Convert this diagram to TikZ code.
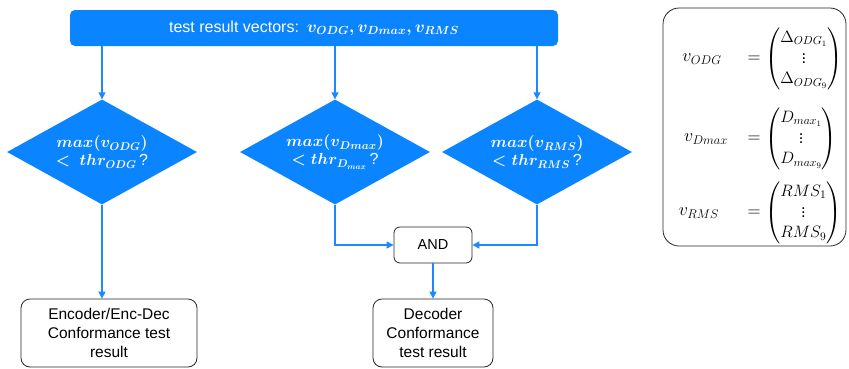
\documentclass[tikz,border=0pt]{standalone}
\usepackage{fix-cm}
\usepackage{amsmath}
\usepackage[no-math]{fontspec}
\setmainfont{Liberation Sans}
\usetikzlibrary{shapes.geometric,arrows.meta}
\definecolor{flowblue}{RGB}{10,132,255}
\definecolor{linkblue}{RGB}{30,136,255}
\tikzset{
  topbar/.style={fill=flowblue, rounded corners=5pt, minimum width=488pt,
    minimum height=36pt, text=white, inner sep=0pt},
  test/.style={diamond, fill=flowblue, minimum width=190pt, minimum height=105pt,
    shape aspect=1.8, inner sep=0pt, text=white, align=center,
    font=\fontsize{16}{19}\selectfont\boldmath},
  outbox/.style={draw=black!85, rounded corners=9pt, line width=0.8pt,
    align=center, inner sep=0pt, font=\fontsize{15.5}{19}\selectfont},
  link/.style={draw=linkblue, line width=1.1pt, -{Triangle[length=7pt,width=7pt]}},
  eq/.style={inner sep=0pt, font=\fontsize{18}{21}\selectfont},
  vec/.style={inner sep=0pt, anchor=west, font=\fontsize{16.5}{20}\selectfont},
}
\begin{document}
\begin{tikzpicture}[x=1pt,y=-1pt]
\useasboundingbox (0,0) rectangle (849,368);

% header with the three result vectors
\node[topbar] (bar) at (314,28)
  {{\fontsize{16}{19}\selectfont test result vectors:}\hspace{8pt}%
   {\fontsize{16.8}{20}\selectfont\boldmath $v_{ODG}, v_{Dmax}, v_{RMS}$}};

% threshold tests
\node[test] (dodg) at (102,152)
  {$max(v_{ODG})$\\[-1pt]$<\ thr_{ODG}$\,?};
\node[test] (ddmax) at (335,152)
  {$max(v_{Dmax})$\\[-1pt]$<thr_{D_{max}}$\,?};
\node[test] (drms) at (537,152)
  {$max(v_{RMS})$\\[-1pt]$<thr_{RMS}$\,?};

% combination and results
\node[outbox, minimum width=78pt, minimum height=36pt, rounded corners=6pt,
      font=\fontsize{14.5}{16}\selectfont] (and) at (433,245) {AND};
\node[outbox, minimum width=176pt, minimum height=68pt] (enc) at (109,333)
  {Encoder/Enc-Dec\\Conformance test\\result};
\node[outbox, minimum width=120pt, minimum height=68pt] (dec) at (433,333)
  {Decoder\\Conformance\\test result};

% connectors
\draw[link] (dodg.north |- bar.south) -- (dodg.north);
\draw[link] (ddmax.north |- bar.south) -- (ddmax.north);
\draw[link] (drms.north |- bar.south) -- (drms.north);
\draw[link] (dodg.south) -- (dodg.south |- enc.north);
\draw[link] (ddmax.south) |- (and.west);
\draw[link] (drms.south) |- (and.east);
\draw[link] (and.south) -- (dec.north);

% definition of the vectors
\node[draw=black!85, line width=0.8pt, rounded corners=16pt,
      minimum width=183pt, minimum height=238pt] (defs) at (754.5,127) {};

\node[eq] (lodg) at (702,59) {$v_{ODG}$};
\node[eq] (eodg) at (754,59) {$=$};
\node[vec] (modg) at (765,59)
  {$\begin{pmatrix}\Delta_{ODG_1}\\ \vdots\\ \Delta_{ODG_9}\end{pmatrix}$};

\node[eq] (ldmax) at (706,139) {$v_{Dmax}$};
\node[eq] (edmax) at (754,139) {$=$};
\node[vec] (mdmax) at (765,139)
  {$\begin{pmatrix}D_{max_1}\\ \vdots\\ D_{max_9}\end{pmatrix}$};

\node[eq] (lrms) at (699,213) {$v_{RMS}$};
\node[eq] (erms) at (754,213) {$=$};
\node[vec] (mrms) at (765,213)
  {$\begin{pmatrix}RMS_1\\ \vdots\\ RMS_9\end{pmatrix}$};
\end{tikzpicture}
\end{document}
